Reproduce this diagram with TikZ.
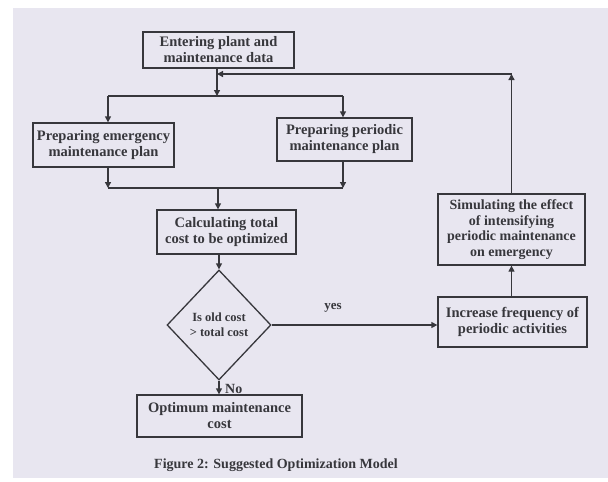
\documentclass[tikz,border=0pt]{standalone}
\usepackage{fontspec}
\setmainfont{Liberation Serif}
\usetikzlibrary{arrows.meta,shapes.geometric}
\definecolor{paper}{RGB}{232,230,240}
\definecolor{ink}{RGB}{55,55,60}
\tikzset{
  box/.style={draw=ink, line width=1.3pt, align=center, inner sep=1pt,
    font=\fontsize{14.5}{16}\selectfont\bfseries, text=ink},
  arr/.style={draw=ink, line width=1.3pt, -{Triangle[length=6pt,width=6pt]}},
  ln/.style={draw=ink, line width=1.3pt},
  lbl/.style={font=\fontsize{13}{15}\selectfont\bfseries, text=ink, inner sep=0pt}
}
\begin{document}
\begin{tikzpicture}[x=1pt,y=-1pt]
\useasboundingbox (0,0) rectangle (608,482);
\fill[white] (0,0) rectangle (608,482);
\fill[paper] (13,8) rectangle (608,478);

\node[box, minimum width=151pt, minimum height=36pt] (enter) at (218.5,50)
  {Entering plant and\\maintenance data};
\node[box, minimum width=141pt, minimum height=44pt] (emer) at (103.5,145)
  {Preparing emergency\\maintenance plan};
\node[box, minimum width=135pt, minimum height=43pt] (peri) at (344.5,139.5)
  {Preparing periodic\\maintenance plan};
\node[box, minimum width=139pt, minimum height=44pt] (calc) at (226.5,232)
  {Calculating total\\cost to be optimized};
\node[box, shape=diamond, inner sep=0pt, minimum width=104pt, minimum height=110pt,
  font=\fontsize{12.5}{15}\selectfont\bfseries] (dec) at (219,325)
  {Is old cost\\> total cost};
\node[box, minimum width=165pt, minimum height=42pt] (opt) at (219.5,416)
  {Optimum maintenance\\cost};
\node[box, minimum width=147pt, minimum height=71pt, font=\fontsize{14}{15.5}\selectfont\bfseries] (sim) at (511.5,229.5)
  {Simulating the effect\\of intensifying\\periodic maintenance\\on emergency};
\node[box, minimum width=149pt, minimum height=50pt] (inc) at (512.5,322)
  {Increase frequency of\\periodic activities};

\node[lbl] (yes) at (333,308) {yes};
\node[lbl, anchor=west, font=\fontsize{14}{15}\selectfont\bfseries] (no) at (225,389) {No};
\node[lbl, font=\fontsize{14}{16}\selectfont\bfseries] (cap) at (276,465)
  {Figure 2: Suggested Optimization Model};

% split after entering
\coordinate (j1) at (217,96);
\coordinate (jl) at (108,96);
\coordinate (jr) at (343,96);
\draw[arr] (enter.south -| j1) -- (j1);
\draw[ln] (jl) -- (jr);
\draw[arr] (jl) -- (emer.north -| jl);
\draw[arr] (jr) -- (peri.north -| jr);

% merge
\coordinate (ml) at (108,188);
\coordinate (mr) at (343,188);
\coordinate (mc) at (218,188);
\draw[arr] (emer.south -| ml) -- (ml);
\draw[arr] (peri.south -| mr) -- (mr);
\draw[ln] (ml) -- (mr);
\draw[arr] (mc) -- (calc.north -| mc);

% to decision
\draw[arr] (calc.south -| dec.north) -- (dec.north);
\draw[arr] (dec.south) -- (opt.north -| dec.south);
\draw[arr] (dec.east) -- (dec.east -| inc.west);
\draw[arr] (inc.north -| sim.south) -- (sim.south);

% feedback
\coordinate (fb) at (511.5,74);
\coordinate (fe) at (217,74);
\draw[arr] (sim.north) -- (fb);
\draw[arr] (fb) -- (fe);
\end{tikzpicture}
\end{document}
